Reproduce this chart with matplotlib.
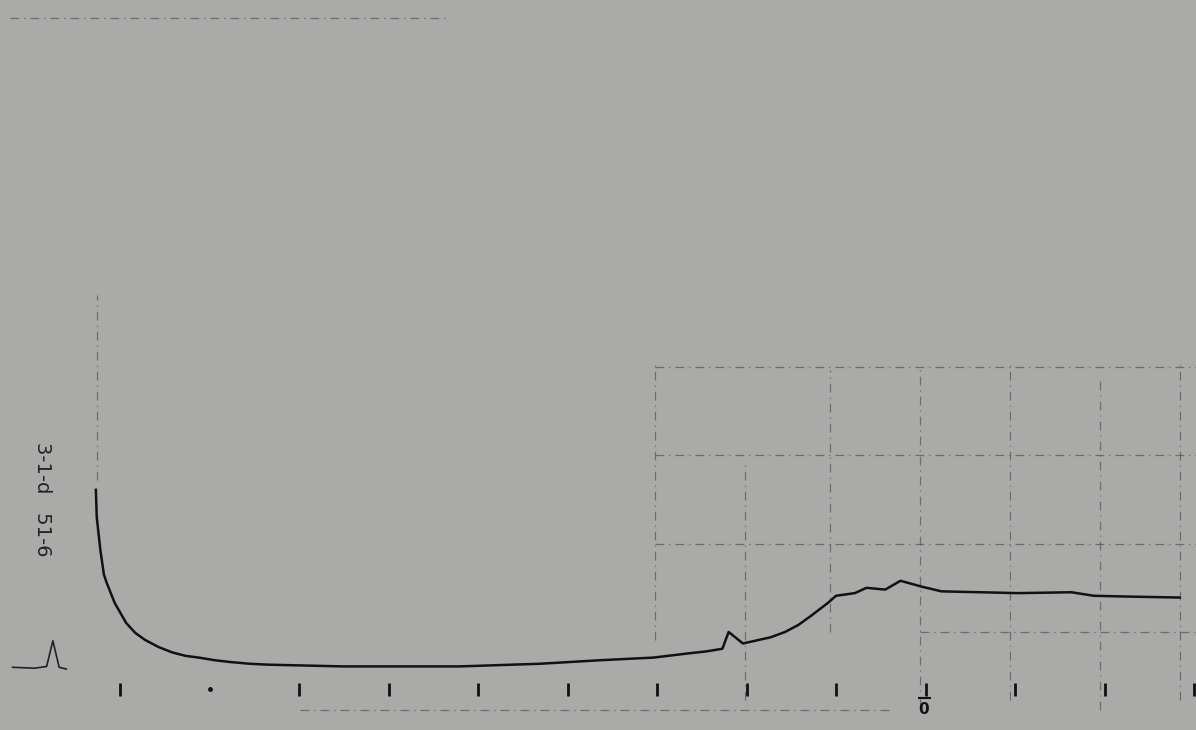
import numpy as np
import matplotlib.pyplot as plt

# recorder trace, x in chart divisions, y in grid divisions
curve_x = [-0.27, -0.26, -0.22, -0.18, -0.15, -0.06, 0.07, 0.17, 0.28, 0.43, 0.58, 0.73,
           0.88, 1.06, 1.23, 1.45, 1.65, 2.50, 3.79, 4.69, 5.36, 5.96, 6.37, 6.55,
           6.73, 6.80, 6.96, 7.27, 7.43, 7.58, 7.73, 7.91, 8.00, 8.21, 8.34, 8.55,
           8.72, 8.97, 9.18, 9.61, 10.03, 10.63, 10.88, 11.31, 11.84]
curve_y = [1.61, 1.30, 0.93, 0.65, 0.56, 0.33, 0.10, -0.01, -0.09, -0.17, -0.23, -0.27,
           -0.29, -0.32, -0.34, -0.36, -0.37, -0.39, -0.39, -0.36, -0.32, -0.29, -0.24, -0.22,
           -0.19, 0.00, -0.13, -0.06, 0.00, 0.08, 0.19, 0.33, 0.41, 0.44, 0.50, 0.48,
           0.58, 0.51, 0.46, 0.45, 0.44, 0.45, 0.41, 0.40, 0.39]

# faint dash-dot grid of the chart paper
vgrid_x = [-0.26, 5.98, 6.98, 7.93, 8.94, 9.94, 10.95, 11.84]
vgrid_lo = [1.72, -0.09, -0.77, 0.00, -0.83, -0.77, -0.88, -0.77]
vgrid_hi = [3.82, 3.02, 1.95, 2.97, 3.02, 3.02, 2.85, 3.02]
hgrid_y = [3, 2, 1, 0, -0.88, 6.95]
hgrid_lo = [5.98, 5.98, 5.98, 8.94, 2.01, -1.23]
hgrid_hi = [12.02, 12.02, 12.02, 12.02, 8.60, 3.69]

tick_pos = [0, 2, 3, 4, 5, 6, 7, 8, 9, 10, 11, 12]
dot_tick = 1
zero_tick = 9

fig = plt.figure(figsize=(11.96, 7.30), dpi=100)
fig.patch.set_facecolor('#aaaba9')
ax = fig.add_axes([0, 0, 1, 1])
ax.set_facecolor('#aaaba9')
ax.set_xlim(-1.341, 12.022)
ax.set_ylim(-1.110, 7.157)
ax.axis('off')

dashdot = (0, (7, 4, 1, 4))
ax.vlines(vgrid_x, vgrid_lo, vgrid_hi, colors='#3a3a3a', linewidth=0.9, linestyles=[dashdot], alpha=0.55)
ax.hlines(hgrid_y, hgrid_lo, hgrid_hi, colors='#3a3a3a', linewidth=0.9, linestyles=[dashdot], alpha=0.55)

ax.plot(curve_x, curve_y, color='#111111', linewidth=1.8, solid_joinstyle='round')

ax.vlines(tick_pos, -0.72, -0.58, colors='#111111', linewidth=2)
ax.plot([dot_tick], [-0.65], marker='o', markersize=2.5, color='#111111')
ax.hlines(-0.75, zero_tick - 0.08, zero_tick + 0.06, colors='#111111', linewidth=1.5)
ax.text(zero_tick - 0.02, -0.88, '0', ha='center', va='center', fontsize=11,
        fontweight='bold', color='#111111')

# small event mark at the start of the run
ax.plot([-1.2, -0.95, -0.82, -0.75, -0.68, -0.6], [-0.4, -0.41, -0.39, -0.1, -0.4, -0.42],
        color='#222222', linewidth=1.2)

ax.text(-0.87, 1.5, '3-1-d   51-6', rotation=270, ha='center', va='center',
        fontsize=14, color='#222222')

plt.savefig('out.png', dpi=100, facecolor=fig.get_facecolor())
